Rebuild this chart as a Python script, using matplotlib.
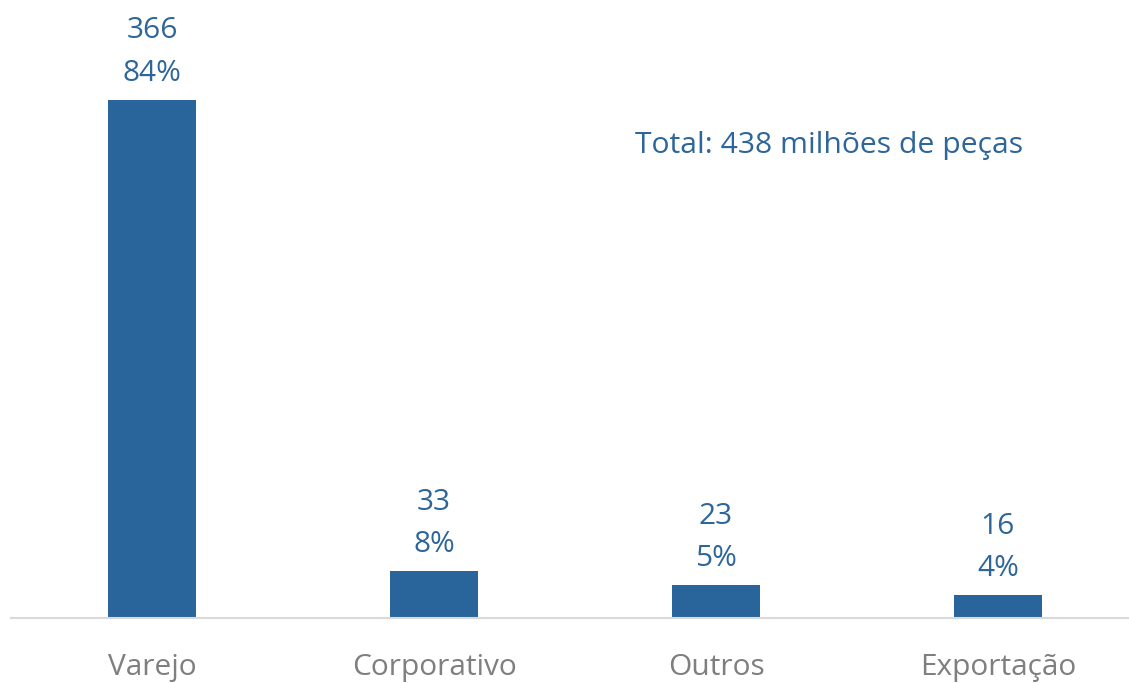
import matplotlib
matplotlib.use("Agg")
import matplotlib.pyplot as plt

categories = ["Varejo", "Corporativo", "Outros", "Exportação"]
values = [366, 33, 23, 16]
percents = ["84%", "8%", "5%", "4%"]
total_text = "Total: 438 milhões de peças"

BLUE = "#29659A"
TEXT_BLUE = "#2E6699"
GRAY = "#7F7F7F"

plt.rcParams['font.family'] = ['Open Sans', 'DejaVu Sans']

W, H = 1129, 683
fig = plt.figure(figsize=(W/100, H/100), dpi=100)
left_px, right_px = 11, 1139
base_px = 618
ax = fig.add_axes([left_px/W, (H-base_px)/H, (right_px-left_px)/W, base_px/H])
ax.set_xlim(-0.5, len(categories)-0.5)
ax.set_ylim(0, base_px/1.415)

x = range(len(categories))
bars = ax.bar(x, values, width=88/282, color=BLUE, zorder=2)

for xi, v, p in zip(x, values, percents):
    ax.annotate(f"{v}\n{p}", (xi, v), xytext=(0, 9), textcoords="offset points",
                ha="center", va="bottom", fontsize=21.5, color=TEXT_BLUE,
                linespacing=1.6)

ax.text(0.553, 0.765, total_text, transform=ax.transAxes, fontsize=21.7,
        color=TEXT_BLUE, ha="left", va="center")

for s in ["top", "right", "left"]:
    ax.spines[s].set_visible(False)
ax.spines["bottom"].set_color("#D9D9D9")
ax.spines["bottom"].set_linewidth(1.5)
ax.set_yticks([])
ax.set_xticks(list(x))
ax.set_xticklabels(categories, fontsize=21.5, color=GRAY)
ax.tick_params(axis="x", length=0, pad=25)

fig.savefig("out.png", dpi=100)
